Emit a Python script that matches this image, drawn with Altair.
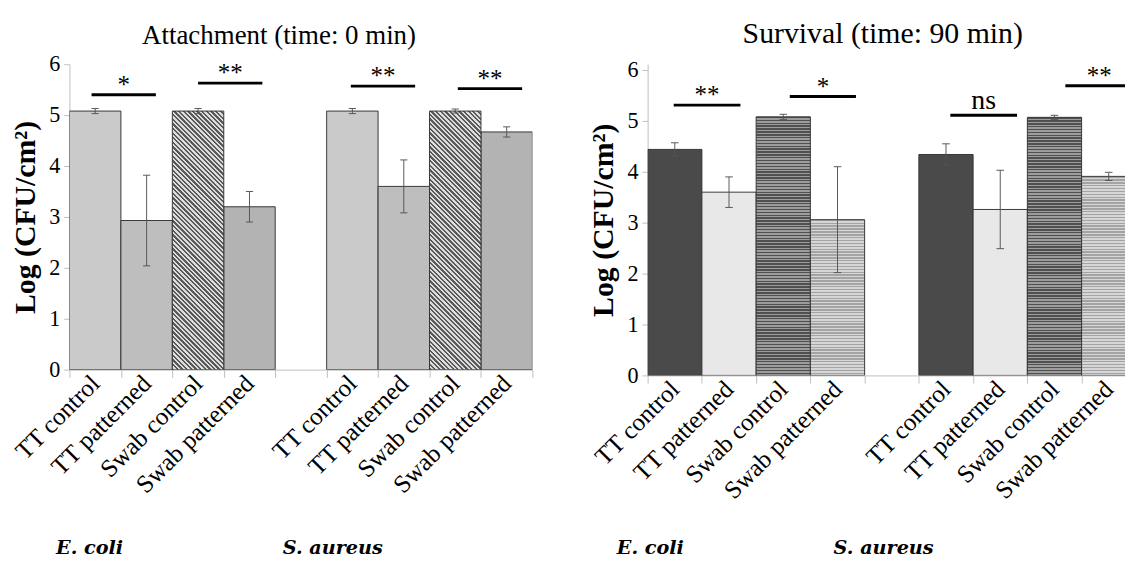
import json
import altair as alt
import pandas as pd

# ---------------- data ----------------
species = ["E. coli", "E. coli", "E. coli", "E. coli",
           "S. aureus", "S. aureus", "S. aureus", "S. aureus"]
treatments = ["TT control", "TT patterned", "Swab  control", "Swab  patterned",
              "TT control", "TT patterned", "Swab  control", "Swab  patterned"]
slots = [0, 1, 2, 3, 5, 6, 7, 8]

att_mean = [5.08, 2.93, 5.08, 3.20, 5.08, 3.60, 5.08, 4.67]
att_err = [0.05, 0.89, 0.05, 0.30, 0.05, 0.52, 0.04, 0.10]
surv_mean = [4.44, 3.60, 5.08, 3.06, 4.34, 3.26, 5.07, 3.91]
surv_err = [0.13, 0.30, 0.05, 1.04, 0.21, 0.77, 0.04, 0.08]

att_sig_x1 = [0.43, 2.50, 5.47, 7.55]
att_sig_x2 = [1.68, 3.75, 6.72, 8.80]
att_sig_y = [5.40, 5.63, 5.57, 5.52]
att_sig_lab = ["*", "**", "**", "**"]

surv_sig_x1 = [0.48, 2.62, 5.58, 7.70]
surv_sig_x2 = [1.71, 3.84, 6.81, 8.95]
surv_sig_y = [5.31, 5.48, 5.11, 5.69]
surv_sig_lab = ["**", "*", "ns", "**"]

species_names = ["E. coli", "S. aureus"]
att_species_pos = [0.39, 5.12]
surv_species_pos = [0.05, 4.35]

tick_labels = ["TT control", "TT patterned", "Swab  control", "Swab  patterned", "",
               "TT control", "TT patterned", "Swab  control", "Swab  patterned", ""]

# ---------------- style ----------------
SERIF = "Liberation Serif"
att_colors = ["#cacaca", "#bebebe", "#a3a3a3", "#b3b3b3",
              "#cacaca", "#bebebe", "#a3a3a3", "#b3b3b3"]
surv_colors = ["#4a4a4a", "#e8e8e8", "#747474", "#c0c0c0",
               "#4a4a4a", "#e8e8e8", "#747474", "#c0c0c0"]
AXIS_GRAY = "#bdbdbd"
UNIT_PX = 53.0          # pixels per log unit
L_H = 318               # left plot height (0..6)
R_H = 324               # right plot height (sits 6px lower)
L_W, L_XMAX = 482, 9
R_W, R_XMAX = 497, 8.8
SPECIES_Y = R_H + 186   # common baseline for the species captions


def stripes(n, c1, c2, x1, y1, x2, y2):
    stops = []
    for i in range(n):
        a, b, c = i / n, (i + 0.5) / n, (i + 1) / n
        stops += [alt.GradientStop(offset=a, color=c1), alt.GradientStop(offset=b, color=c1),
                  alt.GradientStop(offset=b, color=c2), alt.GradientStop(offset=c, color=c2)]
    return alt.Gradient(gradient="linear", stops=stops, x1=x1, y1=y1, x2=x2, y2=y2)


def panel(tag, title, title_size, title_dx, title_offset, means, errs, colors,
          sx1, sx2, sy, slab, species_pos, width, xmax, height, hatches):
    keys = [f"{tag} | {s} | {t}" for s, t in zip(species, treatments)]
    bars = pd.DataFrame({
        "key": keys,
        "sp": species,
        "treat": treatments,
        "slot": slots,
        "slot_end": [s + 1 for s in slots],
        "mid": [s + 0.5 for s in slots],
        "cap_l": [s + 0.43 for s in slots],
        "cap_r": [s + 0.57 for s in slots],
        "mean": means,
        "lo": [m - e for m, e in zip(means, errs)],
        "hi": [m + e for m, e in zip(means, errs)],
    })
    sig = pd.DataFrame({
        "x1": sx1, "x2": sx2, "y": sy, "lab": slab,
        "tx": [(a + b) / 2 for a, b in zip(sx1, sx2)],
    })
    spc = pd.DataFrame({"name": species_names, "pos": species_pos})

    slot_px = width / xmax
    xs = alt.Scale(domain=[0, xmax], nice=False, zero=False)
    ys = alt.Scale(domain=[0, height / UNIT_PX], nice=False, zero=True)
    tick_vals = [v for v in range(0, 10) if v <= xmax]

    x_axis = alt.Axis(
        values=tick_vals,
        labelExpr=json.dumps(tick_labels) + "[datum.value]",
        labelAngle=-45, labelAlign="right", labelBaseline="middle",
        labelOffset=slot_px / 2, labelPadding=2,
        labelFont=SERIF, labelFontSize=26, labelColor="black",
        labelFlush=False, labelOverlap=False,
        tickColor=AXIS_GRAY, tickSize=8, domainColor=AXIS_GRAY,
        grid=False, title=None,
    )
    y_axis = alt.Axis(
        values=[0, 1, 2, 3, 4, 5, 6],
        title="Log (CFU/cm²)", titleFont=SERIF, titleFontSize=31,
        titleFontWeight="bold", titleColor="black", titlePadding=8,
        labelFont=SERIF, labelFontSize=23, labelColor="black", labelPadding=4,
        tickColor=AXIS_GRAY, tickSize=6, domainColor=AXIS_GRAY, grid=False,
    )

    def X(f):
        return alt.X(f, scale=xs, axis=x_axis)

    def Y(f):
        return alt.Y(f, scale=ys, axis=y_axis)

    base = alt.Chart(bars)
    hatched_filters = [h[0] for h in hatches]
    solid_filter = " && ".join(f"!({f})" for f in hatched_filters) or "true"
    layers = [base.transform_filter(solid_filter).mark_rect(
        stroke="#333333", strokeWidth=1, clip=True).encode(
        x=X("slot:Q"), x2="slot_end:Q",
        y=Y("mean:Q"), y2=alt.datum(0),
        color=alt.Color("key:N", scale=alt.Scale(domain=keys, range=colors), legend=None),
    )]
    for filt, grad in hatches:
        layers.append(base.transform_filter(filt).mark_rect(
            stroke="#333333", strokeWidth=1, clip=True, color=grad).encode(
            x=X("slot:Q"), x2="slot_end:Q", y=Y("mean:Q"), y2=alt.datum(0)))

    layers.append(base.mark_rule(color="#555555", strokeWidth=1, clip=True).encode(
        x=X("mid:Q"), y=Y("lo:Q"), y2="hi:Q"))
    layers.append(base.mark_rule(color="#555555", strokeWidth=1, clip=True).encode(
        x=X("cap_l:Q"), x2="cap_r:Q", y=Y("hi:Q")))
    layers.append(base.mark_rule(color="#555555", strokeWidth=1, clip=True).encode(
        x=X("cap_l:Q"), x2="cap_r:Q", y=Y("lo:Q")))

    sbase = alt.Chart(sig)
    layers.append(sbase.mark_rule(color="black", strokeWidth=3, clip=True).encode(
        x=X("x1:Q"), x2="x2:Q", y=Y("y:Q")))
    layers.append(sbase.transform_filter("datum.lab != 'ns'").mark_text(
        font=SERIF, fontSize=26, color="black", baseline="alphabetic", dy=-2
    ).encode(x=X("tx:Q"), y=Y("y:Q"), text="lab:N"))
    layers.append(sbase.transform_filter("datum.lab == 'ns'").mark_text(
        font=SERIF, fontSize=29, color="black", baseline="alphabetic", dy=-7
    ).encode(x=X("tx:Q"), y=Y("y:Q"), text="lab:N"))

    layers.append(alt.Chart(spc).mark_text(
        font="DejaVu Serif", fontSize=20,
        fontStyle="italic", fontWeight="bold",
        color="black", align="center", baseline="alphabetic"
    ).encode(x=X("pos:Q"), y=alt.value(SPECIES_Y), text="name:N"))

    return alt.layer(*layers).properties(
        width=width, height=height,
        title=alt.TitleParams(title, font=SERIF, fontSize=title_size, fontWeight="normal",
                              color="black", offset=title_offset, frame="bounds", dx=title_dx),
    )


def bar_px(v):
    return v * UNIT_PX


# diagonal hatch for the left "Swab control" bars (bounding-box gradient at 45 deg)
l_slot = L_W / L_XMAX
l_h = bar_px(att_mean[2])
r_ratio = l_h / l_slot
s_end = (1 + r_ratio) / (1 + r_ratio ** 2)
diag_n = int(round((l_slot + l_h) / 1.414 / 3.4))

att_hatches = [
    ("datum.treat == 'Swab  control'",
     stripes(diag_n, "#5a5a5a", "#dcdcdc", 0, 1, s_end, 1 - r_ratio * s_end)),
]
surv_hatches = [
    ("datum.treat == 'Swab  control'",
     stripes(int(round(bar_px(surv_mean[2]) / 3)), "#505050", "#9c9c9c", 0, 0, 0, 1)),
    ("datum.treat == 'Swab  patterned' && datum.sp == 'E. coli'",
     stripes(int(round(bar_px(surv_mean[3]) / 3)), "#a4a4a4", "#d6d6d6", 0, 0, 0, 1)),
    ("datum.treat == 'Swab  patterned' && datum.sp == 'S. aureus'",
     stripes(int(round(bar_px(surv_mean[7]) / 3)), "#a4a4a4", "#d6d6d6", 0, 0, 0, 1)),
]

left = panel("A", "Attachment  (time: 0 min)", 28, -10, 4, att_mean, att_err, att_colors,
             att_sig_x1, att_sig_x2, att_sig_y, att_sig_lab, att_species_pos,
             L_W, L_XMAX, L_H, att_hatches)
right = panel("B", "Survival (time: 90 min)", 31, 27, 10, surv_mean, surv_err, surv_colors,
              surv_sig_x1, surv_sig_x2, surv_sig_y, surv_sig_lab, surv_species_pos,
              R_W, R_XMAX, R_H, surv_hatches)

chart = alt.hconcat(left, right, spacing=22).properties(
    padding={"left": 2, "top": 0, "right": 0, "bottom": 0}
).resolve_scale(color="independent").configure_view(stroke=None)

chart.save("out.html", embed_options={"renderer": "svg", "actions": False})
